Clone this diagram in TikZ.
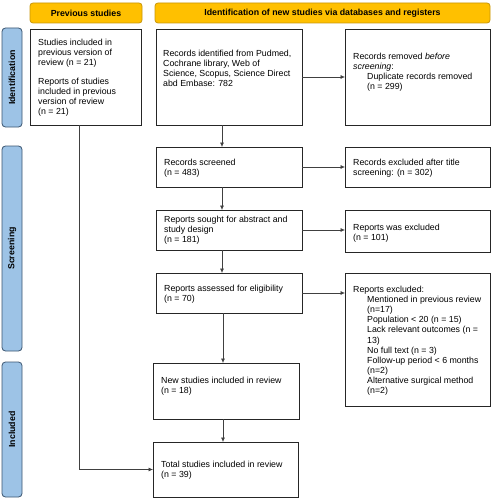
\documentclass[tikz,border=0pt]{standalone}
\usepackage{fontspec}
\setmainfont{Liberation Sans}
\usetikzlibrary{arrows.meta}
\definecolor{hdrfill}{HTML}{FFC000}
\definecolor{hdrline}{HTML}{C8960A}
\definecolor{sidefill}{HTML}{9DC3E6}
\definecolor{sideline}{HTML}{3B5570}
\newcommand{\pbox}[5]{\node[boxst, minimum width={#4-#2}, minimum height={#5-#3}, anchor=north west] (#1) at (#2,#3) {};}
\newcommand{\ind}{\hspace*{14pt}}
\begin{document}
\begin{tikzpicture}[x=1pt,y=-1pt,
  boxst/.style={draw=black!85, line width=0.8pt, fill=white, inner sep=0pt, outer sep=0pt},
  txt/.style={anchor=north west, inner sep=0pt, align=left, font=\fontsize{8.8}{10.1}\selectfont},
  hdr/.style={draw=hdrline, fill=hdrfill, line width=0.8pt, rounded corners=3pt, inner sep=0pt, font=\fontsize{8.8}{10}\selectfont\bfseries},
  side/.style={draw=sideline, fill=sidefill, line width=0.8pt, rounded corners=3.5pt, inner sep=0pt, rotate=90, font=\fontsize{8.8}{10}\selectfont\bfseries},
  arr/.style={-{Latex[length=4.5pt,width=4pt]}, line width=0.6pt, draw=black!75},
  ln/.style={line width=0.6pt, draw=black!75}]
\useasboundingbox (0,0) rectangle (492,500);

% headers
\node[hdr, minimum width=112, minimum height=20] (h1) at (86,13) {Previous studies};
\node[hdr, minimum width=335, minimum height=20] (h2) at (322.5,13) {Identification of new studies via databases and registers};

% side bars
\node[side, minimum width=99, minimum height=20] (s1) at (12,77.5) {Identification};
\node[side, minimum width=205, minimum height=20] (s2) at (12,248.5) {Screening};
\node[side, minimum width=135, minimum height=20] (s3) at (12,429.5) {Included};

% boxes
\pbox{prev}{30}{29}{141}{125}
\pbox{ident}{156}{29}{302}{125}
\pbox{removed}{345}{29}{490}{125}
\pbox{screened}{156}{147}{302}{187}
\pbox{excl}{345}{147}{490}{187}
\pbox{sought}{156}{210}{302}{250}
\pbox{wasexc}{345}{210}{490}{252}
\pbox{assessed}{156}{273}{302}{313}
\pbox{repexc}{345}{273}{490}{406}
\pbox{newst}{153}{363}{299}{419}
\pbox{total}{153}{442}{298}{497}

% texts
\node[txt] (tprev) at (38,38.5) {Studies included in\\previous version of\\review (n = 21)\\[9pt]Reports of studies\\included in previous\\version of review\\(n = 21)};
\node[txt] (tident) at (163,49.5) {Records identified from Pudmed,\\Cochrane library, Web of\\Science, Scopus, Science Direct\\abd Embase: 782};
\node[txt] (tremoved) at (353,52.5) {Records removed \textit{before}\\\textit{screening}:\\\ind Duplicate records removed\\\ind(n = 299)};
\node[txt] (tscreened) at (164,158.5) {Records screened\\(n = 483)};
\node[txt] (texcl) at (353,158.5) {Records excluded after title\\screening: (n = 302)};
\node[txt] (tsought) at (164,216) {Reports sought for abstract and\\study design\\(n = 181)};
\node[txt] (twasexc) at (353,223.5) {Reports was excluded\\(n = 101)};
\node[txt] (tassessed) at (164,284.5) {Reports assessed for eligibility\\(n = 70)};
\node[txt] (trepexc) at (353,286) {Reports excluded:\\\ind Mentioned in previous review\\\ind(n=17)\\\ind Population {\textless} 20 (n = 15)\\\ind Lack relevant outcomes (n =\\\ind 13)\\\ind No full text (n = 3)\\\ind Follow-up period {\textless} 6 months\\\ind(n=2)\\\ind Alternative surgical method\\\ind(n=2)};
\node[txt] (tnew) at (161,377) {New studies included in review\\(n = 18)};
\node[txt] (ttotal) at (161,461) {Total studies included in review\\(n = 39)};

% connectors
\coordinate (ax) at (222,0);
\coordinate (bx) at (223,0);
\coordinate (lx) at (79,0);
\draw[arr] (ident.south -| ax) -- (screened.north -| ax);
\draw[arr] (screened.south -| ax) -- (sought.north -| ax);
\draw[arr] (sought.south -| ax) -- (assessed.north -| ax);
\draw[arr] (assessed.south -| bx) -- (newst.north -| bx);
\draw[arr] (newst.south -| bx) -- (total.north -| bx);
\draw[arr] (ident.east) -- (removed.west |- ident.east);
\draw[arr] (screened.east) -- (excl.west |- screened.east);
\draw[arr] (sought.east) -- (wasexc.west |- sought.east);
\draw[arr] (assessed.east) -- (repexc.west |- assessed.east);
\draw[arr] (prev.south -| lx) |- (total.west);
\end{tikzpicture}
\end{document}
